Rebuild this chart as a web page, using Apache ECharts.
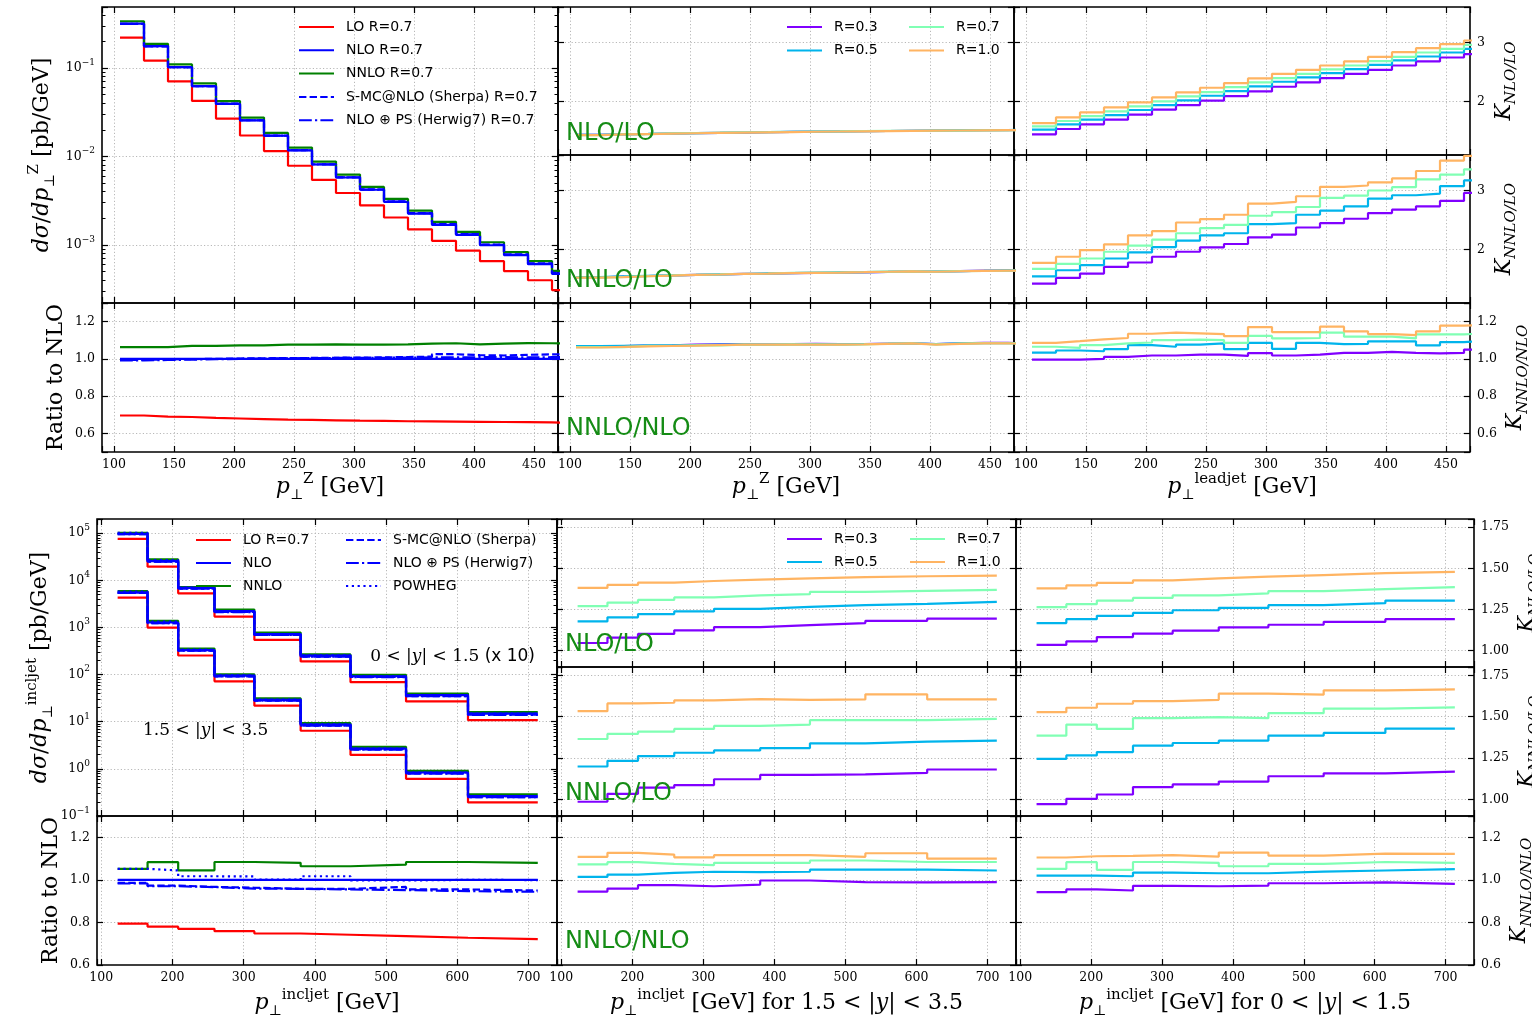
<!DOCTYPE html>
<html>
<head>
<meta charset="utf-8">
<script src="https://cdn.jsdelivr.net/npm/echarts@6/dist/echarts.min.js"></script>
<style>
  html, body { margin: 0; padding: 0; background: #fff; }
  #chart { width: 1532px; height: 1021px; }
</style>
</head>
<body>
<div id="chart"></div>
<script>
// ---------------------------------------------------------------------------
// Z + jet: bins in pT of the Z boson / leading jet [GeV]
const zEdges = [105, 125, 145, 165, 185, 205, 225, 245, 265, 285, 305, 325, 345, 365, 385, 405, 425, 445, 465, 485];

// dsigma/dpT^Z [pb/GeV], R = 0.7
const zLO     = [0.2210, 0.1215, 0.0706, 0.0425, 0.0268, 0.01725, 0.01150, 0.00785, 0.00542, 0.00386, 0.00280, 0.00204, 0.00150, 0.00111, 0.000860, 0.000654, 0.000504, 0.000398, 0.000308];
const zNLO    = [0.318, 0.177, 0.1026, 0.0625, 0.0394, 0.0256, 0.01714, 0.0117, 0.00811, 0.00578, 0.00420, 0.00307, 0.00226, 0.00168, 0.00130, 0.00099, 0.000764, 0.000604, 0.00047];
const zNNLO   = [0.338, 0.188, 0.1098, 0.0669, 0.0423, 0.0275, 0.01846, 0.01259, 0.00874, 0.00623, 0.00452, 0.00331, 0.002445, 0.00182, 0.00140, 0.00107, 0.000829, 0.000655, 0.000509];
const zSherpa = [0.3164, 0.1765, 0.1025, 0.0625, 0.03948, 0.02568, 0.01721, 0.01176, 0.00816, 0.00582, 0.004234, 0.00310, 0.002287, 0.001722, 0.001326, 0.001008, 0.000781, 0.000618, 0.000481];
const zHerwig = [0.3155, 0.1759, 0.1022, 0.06238, 0.0394, 0.02565, 0.01719, 0.01175, 0.00815, 0.00581, 0.004225, 0.003091, 0.002278, 0.001693, 0.001312, 0.00100, 0.000770, 0.000609, 0.000475];

// ratios to NLO (R = 0.7)
const zRatLO     = [0.696, 0.690, 0.688, 0.683, 0.680, 0.677, 0.674, 0.672, 0.670, 0.668, 0.667, 0.665, 0.664, 0.663, 0.662, 0.661, 0.660, 0.659, 0.656];
const zRatNLO    = [1, 1, 1, 1, 1, 1, 1, 1, 1, 1, 1, 1, 1, 1, 1, 1, 1, 1, 1];
const zRatNNLO   = [1.063, 1.063, 1.070, 1.070, 1.073, 1.073, 1.077, 1.076, 1.078, 1.077, 1.077, 1.078, 1.082, 1.084, 1.078, 1.082, 1.085, 1.084, 1.083];
const zRatSherpa = [0.995, 0.997, 0.999, 1.000, 1.002, 1.003, 1.004, 1.005, 1.006, 1.007, 1.008, 1.010, 1.012, 1.025, 1.020, 1.018, 1.022, 1.024, 1.024];
const zRatHerwig = [0.992, 0.994, 0.996, 0.998, 1.000, 1.002, 1.003, 1.004, 1.005, 1.005, 1.006, 1.007, 1.008, 1.008, 1.009, 1.010, 1.008, 1.009, 1.010];

// K-factors vs pT^Z for R = 0.3, 0.5, 0.7, 1.0
const zKnloR03 = [1.440, 1.450, 1.455, 1.462, 1.468, 1.474, 1.479, 1.484, 1.489, 1.494, 1.497, 1.501, 1.505, 1.508, 1.511, 1.514, 1.518, 1.521, 1.524];
const zKnloR05 = [1.441, 1.451, 1.456, 1.463, 1.469, 1.474, 1.480, 1.485, 1.490, 1.494, 1.498, 1.502, 1.505, 1.509, 1.512, 1.515, 1.518, 1.522, 1.525];
const zKnloR07 = [1.437, 1.449, 1.453, 1.464, 1.470, 1.477, 1.484, 1.488, 1.493, 1.497, 1.499, 1.504, 1.506, 1.508, 1.511, 1.513, 1.515, 1.517, 1.524];
const zKnloR10 = [1.436, 1.448, 1.454, 1.461, 1.467, 1.473, 1.478, 1.483, 1.488, 1.493, 1.497, 1.500, 1.504, 1.507, 1.511, 1.514, 1.517, 1.520, 1.523];

const zKnnloR03 = [1.535, 1.548, 1.556, 1.565, 1.576, 1.582, 1.592, 1.597, 1.606, 1.609, 1.613, 1.619, 1.625, 1.633, 1.629, 1.638, 1.647, 1.649, 1.651];
const zKnnloR05 = [1.538, 1.551, 1.559, 1.567, 1.574, 1.584, 1.590, 1.600, 1.604, 1.611, 1.616, 1.621, 1.627, 1.631, 1.632, 1.640, 1.645, 1.651, 1.652];
const zKnnloR07 = [1.530, 1.541, 1.555, 1.566, 1.577, 1.583, 1.594, 1.598, 1.609, 1.612, 1.615, 1.621, 1.630, 1.635, 1.629, 1.637, 1.644, 1.645, 1.651];
const zKnnloR10 = [1.527, 1.538, 1.552, 1.562, 1.574, 1.581, 1.591, 1.597, 1.605, 1.610, 1.614, 1.620, 1.628, 1.633, 1.628, 1.636, 1.643, 1.646, 1.650];

const zKnnNloR03 = [1.066, 1.068, 1.071, 1.072, 1.076, 1.078, 1.080, 1.078, 1.079, 1.081, 1.079, 1.080, 1.082, 1.084, 1.080, 1.084, 1.086, 1.086, 1.084];
const zKnnNloR05 = [1.068, 1.070, 1.072, 1.073, 1.074, 1.076, 1.078, 1.077, 1.078, 1.079, 1.078, 1.080, 1.081, 1.083, 1.079, 1.083, 1.085, 1.085, 1.083];
const zKnnNloR07 = [1.063, 1.063, 1.070, 1.070, 1.073, 1.073, 1.077, 1.076, 1.078, 1.077, 1.077, 1.078, 1.082, 1.084, 1.078, 1.082, 1.085, 1.084, 1.083];
const zKnnNloR10 = [1.061, 1.064, 1.067, 1.069, 1.071, 1.074, 1.076, 1.076, 1.077, 1.076, 1.077, 1.078, 1.081, 1.083, 1.077, 1.081, 1.083, 1.083, 1.082];

// K-factors vs leading-jet pT
const ljKnloR03 = [1.449, 1.539, 1.618, 1.697, 1.781, 1.865, 1.944, 2.017, 2.096, 2.174, 2.253, 2.326, 2.399, 2.472, 2.539, 2.612, 2.680, 2.747, 2.803];
const ljKnloR05 = [1.528, 1.618, 1.697, 1.775, 1.860, 1.944, 2.022, 2.101, 2.180, 2.258, 2.337, 2.410, 2.483, 2.551, 2.624, 2.697, 2.764, 2.831, 2.893];
const ljKnloR07 = [1.584, 1.674, 1.758, 1.837, 1.921, 2.006, 2.090, 2.163, 2.247, 2.326, 2.399, 2.472, 2.545, 2.612, 2.685, 2.758, 2.831, 2.893, 2.961];
const ljKnloR10 = [1.640, 1.736, 1.820, 1.904, 1.989, 2.073, 2.157, 2.236, 2.315, 2.393, 2.472, 2.539, 2.612, 2.680, 2.758, 2.837, 2.904, 2.972, 3.034];

const ljKnnloR03 = [1.426, 1.523, 1.597, 1.710, 1.784, 1.881, 1.966, 2.040, 2.097, 2.210, 2.256, 2.375, 2.449, 2.523, 2.619, 2.676, 2.733, 2.824, 2.960];
const ljKnnloR05 = [1.551, 1.653, 1.739, 1.852, 1.955, 2.045, 2.153, 2.244, 2.278, 2.432, 2.449, 2.591, 2.659, 2.733, 2.864, 2.920, 2.949, 3.074, 3.170];
const ljKnnloR07 = [1.676, 1.761, 1.852, 1.966, 2.068, 2.170, 2.278, 2.364, 2.420, 2.574, 2.636, 2.722, 2.875, 2.915, 3.000, 3.057, 3.188, 3.267, 3.358];
const ljKnnloR10 = [1.778, 1.881, 1.994, 2.091, 2.244, 2.313, 2.460, 2.517, 2.591, 2.778, 2.807, 2.903, 3.063, 3.085, 3.136, 3.205, 3.330, 3.506, 3.585];

const ljKnnNloR03 = [0.996, 0.996, 1.000, 1.011, 1.018, 1.018, 1.023, 1.023, 1.016, 1.031, 1.018, 1.023, 1.032, 1.032, 1.038, 1.032, 1.029, 1.032, 1.050];
const ljKnnNloR05 = [1.034, 1.045, 1.041, 1.052, 1.074, 1.065, 1.077, 1.083, 1.052, 1.086, 1.054, 1.086, 1.079, 1.081, 1.094, 1.094, 1.072, 1.090, 1.097];
const ljKnnNloR07 = [1.065, 1.059, 1.074, 1.083, 1.088, 1.101, 1.103, 1.101, 1.086, 1.123, 1.110, 1.112, 1.141, 1.119, 1.119, 1.110, 1.132, 1.132, 1.137];
const ljKnnNloR10 = [1.086, 1.095, 1.105, 1.112, 1.135, 1.141, 1.137, 1.133, 1.122, 1.171, 1.144, 1.144, 1.173, 1.148, 1.133, 1.128, 1.148, 1.178, 1.184];

// ---------------------------------------------------------------------------
// Inclusive jets: bins in pT^incljet [GeV]
const jetEdges = [123, 165, 208, 259, 315, 380, 450, 528, 615, 713];

// 0 < |y| < 1.5 (scaled by 10)
const cenLO     = [76000, 19500, 5300, 1700, 545, 190, 69.0, 27.0, 10.8];
const cenNLO    = [96800, 25600, 6890, 2213, 722, 252, 92.2, 36.6, 14.8];
const cenNNLO   = [101800, 27700, 7210, 2400, 780, 268, 99.0, 39.7, 16.0];
const cenSherpa = [95400, 24900, 6660, 2130, 692, 241, 89.0, 35.0, 14.1];
const cenHerwig = [95200, 24800, 6650, 2120, 692, 241, 87.8, 34.7, 14.0];
const cenPowheg = [101800, 26700, 7010, 2226, 723, 256, 92.0, 36.6, 14.8];

// 1.5 < |y| < 3.5
const fwdLO     = [4310, 990, 254, 72.0, 21.9, 6.43, 1.98, 0.614, 0.194];
const fwdNLO    = [5480, 1275, 332, 95.2, 29.2, 8.64, 2.69, 0.837, 0.265];
const fwdNNLO   = [5880, 1381, 357, 101.8, 31.5, 9.33, 2.93, 0.907, 0.287];
const fwdSherpa = [5400, 1240, 321, 91.7, 28.0, 8.28, 2.60, 0.800, 0.252];
const fwdHerwig = [5390, 1237, 321, 91.3, 28.0, 8.25, 2.56, 0.790, 0.250];
const fwdPowheg = [5760, 1330, 338, 95.8, 29.3, 8.79, 2.68, 0.837, 0.265];

// ratios to NLO
const jetRatLO     = [0.794, 0.780, 0.770, 0.759, 0.748, 0.742, 0.736, 0.728, 0.722];
const jetRatNLO    = [1, 1, 1, 1, 1, 1, 1, 1, 1];
const jetRatNNLO   = [1.052, 1.083, 1.045, 1.084, 1.080, 1.064, 1.072, 1.084, 1.080];
const jetRatSherpa = [0.986, 0.973, 0.967, 0.963, 0.958, 0.958, 0.967, 0.955, 0.950];
const jetRatHerwig = [0.983, 0.970, 0.966, 0.959, 0.958, 0.955, 0.952, 0.947, 0.944];
const jetRatPowheg = [1.052, 1.044, 1.017, 1.016, 1.001, 1.017, 0.997, 1.000, 0.999];

// K-factors, 1.5 < |y| < 3.5
const fwdKnloR03 = [1.046, 1.079, 1.101, 1.123, 1.143, 1.155, 1.167, 1.181, 1.194];
const fwdKnloR05 = [1.177, 1.202, 1.222, 1.238, 1.254, 1.266, 1.276, 1.284, 1.296];
const fwdKnloR07 = [1.270, 1.292, 1.308, 1.323, 1.335, 1.343, 1.357, 1.363, 1.369];
const fwdKnloR10 = [1.381, 1.399, 1.413, 1.423, 1.431, 1.439, 1.446, 1.452, 1.456];
const fwdKnnloR03 = [0.986, 1.034, 1.071, 1.087, 1.122, 1.148, 1.152, 1.160, 1.181];
const fwdKnnloR05 = [1.199, 1.233, 1.262, 1.282, 1.296, 1.310, 1.339, 1.349, 1.355];
const fwdKnnloR07 = [1.365, 1.396, 1.410, 1.426, 1.444, 1.452, 1.479, 1.479, 1.487];
const fwdKnnloR10 = [1.533, 1.580, 1.584, 1.598, 1.606, 1.602, 1.604, 1.635, 1.604];
const fwdKnnNloR03 = [0.945, 0.959, 0.975, 0.970, 0.978, 0.997, 0.989, 0.988, 0.989];
const fwdKnnNloR05 = [1.014, 1.025, 1.033, 1.038, 1.036, 1.038, 1.048, 1.048, 1.044];
const fwdKnnNloR07 = [1.073, 1.083, 1.075, 1.069, 1.080, 1.080, 1.091, 1.084, 1.084];
const fwdKnnNloR10 = [1.108, 1.127, 1.119, 1.106, 1.116, 1.116, 1.108, 1.125, 1.100];

// K-factors, 0 < |y| < 1.5
const cenKnloR03 = [1.034, 1.056, 1.082, 1.103, 1.121, 1.141, 1.157, 1.175, 1.191];
const cenKnloR05 = [1.167, 1.191, 1.211, 1.229, 1.245, 1.260, 1.276, 1.288, 1.304];
const cenKnloR07 = [1.264, 1.282, 1.304, 1.320, 1.336, 1.348, 1.362, 1.374, 1.386];
const cenKnloR10 = [1.378, 1.396, 1.412, 1.427, 1.439, 1.449, 1.459, 1.471, 1.479];
const cenKnnloR03 = [0.972, 1.004, 1.030, 1.075, 1.091, 1.108, 1.140, 1.158, 1.168];
const cenKnnloR05 = [1.245, 1.266, 1.286, 1.325, 1.341, 1.355, 1.385, 1.402, 1.428];
const cenKnnloR07 = [1.385, 1.452, 1.426, 1.491, 1.497, 1.491, 1.521, 1.548, 1.556];
const cenKnnloR10 = [1.527, 1.554, 1.578, 1.594, 1.602, 1.639, 1.633, 1.659, 1.665];
const cenKnnNloR03 = [0.942, 0.955, 0.950, 0.972, 0.970, 0.973, 0.984, 0.988, 0.981];
const cenKnnNloR05 = [1.020, 1.020, 1.017, 1.034, 1.031, 1.031, 1.039, 1.044, 1.050];
const cenKnnNloR07 = [1.052, 1.083, 1.047, 1.084, 1.080, 1.064, 1.075, 1.084, 1.080];
const cenKnnNloR10 = [1.105, 1.111, 1.113, 1.116, 1.109, 1.128, 1.114, 1.123, 1.122];

// ---------------------------------------------------------------------------
const SERIF = 'DejaVu Serif';
const SANS = 'DejaVu Sans';
const R_NAMES = ['R=0.3', 'R=0.5', 'R=0.7', 'R=1.0'];
const R_COLORS = ['#8000ff', '#00b4ec', '#80ffb4', '#ffb462'];
const C_LO = '#ff0000', C_NLO = '#0000ff', C_NNLO = '#008000';
const LW = 2.2;
const DASH = [7.4, 3.2], DASHDOT = [12.8, 3.2, 2.2, 3.2], DOT = [2.2, 3.6];

const TICK = { show: true, inside: true, length: 6, lineStyle: { color: '#000', width: 1.2 } };
const GRIDLINE = { show: true, showMinLine: false, showMaxLine: false,
  lineStyle: { color: '#b8b8b8', width: 1, type: [1.2, 2.2] } };
const LABEL = { color: '#000', fontFamily: SERIF, fontSize: 12.5, showMinLabel: true, showMaxLabel: true, hideOverlap: false };
const LOG_RICH = {
  b: { fontFamily: SERIF, fontSize: 12.5, lineHeight: 20 },
  e: { fontFamily: SERIF, fontSize: 9, lineHeight: 10, verticalAlign: 'top' }
};
const TITLE = {
  fontFamily: SERIF, fontSize: 22, lineHeight: 30, color: '#000',
  rich: {
    i:   { fontFamily: SERIF, fontStyle: 'italic', fontSize: 22, lineHeight: 30 },
    sup: { fontFamily: SERIF, fontSize: 15, lineHeight: 17, verticalAlign: 'top' },
    sub: { fontFamily: SERIF, fontSize: 14, lineHeight: 17, verticalAlign: 'bottom' },
    ks:  { fontFamily: SERIF, fontStyle: 'italic', fontSize: 15, lineHeight: 15, verticalAlign: 'bottom' }
  }
};

function linFmt(step, dec) {
  return function (v) {
    const k = v / step;
    if (Math.abs(k - Math.round(k)) > 1e-6) return '';
    return v.toFixed(dec);
  };
}
function logFmt(v) {
  const e = Math.log10(v);
  const r = Math.round(e);
  if (Math.abs(e - r) > 1e-6) return '';
  return '{b|10}{e|' + (r < 0 ? '\u2212' + (-r) : String(r)) + '}';
}

const grid = [], xAxis = [], yAxis = [], series = [];

// one framed panel with ticks on all four sides
function panel(r, xc, yc) {
  const gi = grid.length;
  grid.push({
    left: r[0], top: r[2], width: r[1] - r[0], height: r[3] - r[2],
    show: true, borderColor: '#000', borderWidth: 1.6, backgroundColor: 'transparent',
    containLabel: false, outerBoundsMode: 'none'
  });
  const xi = xAxis.length;
  const xb = { gridIndex: gi, type: 'value', min: xc.min, max: xc.max, minInterval: xc.step, maxInterval: xc.step,
    axisLine: { show: false }, axisTick: TICK, silent: true };
  xAxis.push(Object.assign({}, xb, {
    position: 'bottom', splitLine: GRIDLINE,
    axisLabel: Object.assign({}, LABEL, { show: !!xc.labels, margin: 6, formatter: linFmt(xc.step, 0) }),
    name: xc.name || '', nameLocation: 'middle', nameGap: xc.nameGap || 20, nameTextStyle: TITLE
  }));
  xAxis.push(Object.assign({}, xb, { position: 'top', splitLine: { show: false }, axisLabel: { show: false } }));

  const yi = yAxis.length;
  const yb = { gridIndex: gi, type: yc.log ? 'log' : 'value', min: yc.min, max: yc.max,
    axisLine: { show: false }, axisTick: TICK, silent: true };
  if (yc.log) {
    yb.logBase = 10;
    yb.minorTick = { show: true, splitNumber: 9, length: 3.5, lineStyle: { color: '#000', width: 1 } };
  } else { yb.minInterval = yc.step; yb.maxInterval = yc.step; }
  const fmt = yc.log ? logFmt : linFmt(yc.step, yc.dec);
  ['left', 'right'].forEach(function (pos, k) {
    const own = yc.side === pos;
    yAxis.push(Object.assign({}, yb, {
      position: pos,
      splitLine: k === 0 ? GRIDLINE : { show: false },
      axisLabel: Object.assign({}, LABEL, { show: own, margin: 7, formatter: fmt, rich: LOG_RICH }),
      name: own && yc.name ? yc.name : '', nameLocation: 'middle', nameRotate: 90,
      nameGap: yc.nameGap || 30, nameTextStyle: TITLE
    }));
  });
  return { x: xi, y: yi };
}

// histogram drawn as a step line: value of bin i starts at edge i
function hist(ax, name, edges, vals, color, dash, z) {
  series.push({
    type: 'line', name: name, xAxisIndex: ax.x, yAxisIndex: ax.y,
    data: edges.map(function (e, i) { return [e, vals[Math.min(i, vals.length - 1)]]; }),
    step: 'end', symbol: 'none', showSymbol: false, clip: true, silent: true,
    lineStyle: { color: color, width: LW, type: dash || 'solid', cap: 'butt' },
    itemStyle: { color: color }, z: z || 2
  });
}
function rset(ax, edges, arrs) {
  arrs.forEach(function (a, k) { hist(ax, R_NAMES[k], edges, a, R_COLORS[k], null, 3 + k); });
}

// ---------------------------------------------------------------------------
// axis titles
const X_Z    = '{i|p}{sub|\u22a5}{sup|Z} [GeV]';
const X_LEAD = '{i|p}{sub|\u22a5}{sup|leadjet} [GeV]';
const X_JET  = '{i|p}{sub|\u22a5}{sup|incljet} [GeV]';
const X_FWD  = '{i|p}{sub|\u22a5}{sup|incljet} [GeV] for 1.5 < |{i|y}| < 3.5';
const X_CEN  = '{i|p}{sub|\u22a5}{sup|incljet} [GeV] for 0 < |{i|y}| < 1.5';
const Y_ZMAIN = '{i|d\u03c3}/{i|dp}{sub|\u22a5}{sup|Z} [pb/GeV]';
const Y_JMAIN = '{i|d\u03c3}/{i|dp}{sub|\u22a5}{sup|incljet} [pb/GeV]';
const Y_RATIO = 'Ratio to NLO';
const K_NLO_LO   = '{i|K}{ks|NLO/LO}';
const K_NNLO_LO  = '{i|K}{ks|NNLO/LO}';
const K_NNLO_NLO = '{i|K}{ks|NNLO/NLO}';

const XZ = { min: 90, max: 470, step: 50 };
const XJ = { min: 94, max: 740, step: 100 };
const o = function (a, b) { return Object.assign({}, a, b); };

// ---- upper block: Z + jet
const pZMain  = panel([102, 558, 7, 303], o(XZ, {}), { log: true, min: 2.2e-4, max: 0.49, side: 'left', name: Y_ZMAIN, nameGap: 45 });
const pZRatio = panel([102, 558, 303, 452], o(XZ, { labels: true, name: X_Z, nameGap: 20 }), { min: 0.5, max: 1.3, step: 0.2, dec: 1, side: 'left', name: Y_RATIO, nameGap: 30 });
const pZK1 = panel([558, 1014, 7, 155], o(XZ, {}), { min: 1.1, max: 3.6, step: 1, dec: 0, side: 'none' });
const pZK2 = panel([558, 1014, 155, 303], o(XZ, {}), { min: 1.1, max: 3.6, step: 1, dec: 0, side: 'none' });
const pZK3 = panel([558, 1014, 303, 452], o(XZ, { labels: true, name: X_Z, nameGap: 20 }), { min: 0.5, max: 1.3, step: 0.2, dec: 1, side: 'none' });
const pLK1 = panel([1014, 1470, 7, 155], o(XZ, {}), { min: 1.1, max: 3.6, step: 1, dec: 0, side: 'right', name: K_NLO_LO, nameGap: 15 });
const pLK2 = panel([1014, 1470, 155, 303], o(XZ, {}), { min: 1.1, max: 3.6, step: 1, dec: 0, side: 'right', name: K_NNLO_LO, nameGap: 15 });
const pLK3 = panel([1014, 1470, 303, 452], o(XZ, { labels: true, name: X_LEAD, nameGap: 20 }), { min: 0.5, max: 1.3, step: 0.2, dec: 1, side: 'right', name: K_NNLO_NLO, nameGap: 27 });

// ---- lower block: inclusive jets
const pJMain  = panel([97, 557, 519, 816], o(XJ, {}), { log: true, min: 0.1, max: 2e5, side: 'left', name: Y_JMAIN, nameGap: 42 });
const pJRatio = panel([97, 557, 816, 965], o(XJ, { labels: true, name: X_JET, nameGap: 23 }), { min: 0.6, max: 1.3, step: 0.2, dec: 1, side: 'left', name: Y_RATIO, nameGap: 30 });
const pFK1 = panel([557, 1016, 519, 667], o(XJ, {}), { min: 0.9, max: 1.8, step: 0.25, dec: 2, side: 'none' });
const pFK2 = panel([557, 1016, 667, 816], o(XJ, {}), { min: 0.9, max: 1.8, step: 0.25, dec: 2, side: 'none' });
const pFK3 = panel([557, 1016, 816, 965], o(XJ, { labels: true, name: X_FWD, nameGap: 23 }), { min: 0.6, max: 1.3, step: 0.2, dec: 1, side: 'none' });
const pCK1 = panel([1016, 1474, 519, 667], o(XJ, {}), { min: 0.9, max: 1.8, step: 0.25, dec: 2, side: 'right', name: K_NLO_LO, nameGap: 36 });
const pCK2 = panel([1016, 1474, 667, 816], o(XJ, {}), { min: 0.9, max: 1.8, step: 0.25, dec: 2, side: 'right', name: K_NNLO_LO, nameGap: 36 });
const pCK3 = panel([1016, 1474, 816, 965], o(XJ, { labels: true, name: X_CEN, nameGap: 23 }), { min: 0.6, max: 1.3, step: 0.2, dec: 1, side: 'right', name: K_NNLO_NLO, nameGap: 28 });

// ---- series
hist(pZMain, 'LO R=0.7', zEdges, zLO, C_LO);
hist(pZMain, 'NLO R=0.7', zEdges, zNLO, C_NLO);
hist(pZMain, 'NNLO R=0.7', zEdges, zNNLO, C_NNLO);
hist(pZMain, 'S-MC@NLO (Sherpa) R=0.7', zEdges, zSherpa, C_NLO, DASH);
hist(pZMain, 'NLO \u2295 PS (Herwig7) R=0.7', zEdges, zHerwig, C_NLO, DASHDOT);

hist(pZRatio, 'LO R=0.7', zEdges, zRatLO, C_LO);
hist(pZRatio, 'NNLO R=0.7', zEdges, zRatNNLO, C_NNLO);
hist(pZRatio, 'S-MC@NLO (Sherpa) R=0.7', zEdges, zRatSherpa, C_NLO, DASH);
hist(pZRatio, 'NLO \u2295 PS (Herwig7) R=0.7', zEdges, zRatHerwig, C_NLO, DASHDOT);
hist(pZRatio, 'NLO R=0.7', zEdges, zRatNLO, C_NLO);

rset(pZK1, zEdges, [zKnloR03, zKnloR05, zKnloR07, zKnloR10]);
rset(pZK2, zEdges, [zKnnloR03, zKnnloR05, zKnnloR07, zKnnloR10]);
rset(pZK3, zEdges, [zKnnNloR03, zKnnNloR05, zKnnNloR07, zKnnNloR10]);
rset(pLK1, zEdges, [ljKnloR03, ljKnloR05, ljKnloR07, ljKnloR10]);
rset(pLK2, zEdges, [ljKnnloR03, ljKnnloR05, ljKnnloR07, ljKnnloR10]);
rset(pLK3, zEdges, [ljKnnNloR03, ljKnnNloR05, ljKnnNloR07, ljKnnNloR10]);

[[cenLO, cenNLO, cenNNLO, cenSherpa, cenHerwig, cenPowheg],
 [fwdLO, fwdNLO, fwdNNLO, fwdSherpa, fwdHerwig, fwdPowheg]].forEach(function (s) {
  hist(pJMain, 'LO R=0.7', jetEdges, s[0], C_LO);
  hist(pJMain, 'NNLO', jetEdges, s[2], C_NNLO);
  hist(pJMain, 'NLO', jetEdges, s[1], C_NLO);
  hist(pJMain, 'S-MC@NLO (Sherpa)', jetEdges, s[3], C_NLO, DASH);
  hist(pJMain, 'NLO \u2295 PS (Herwig7)', jetEdges, s[4], C_NLO, DASHDOT);
  hist(pJMain, 'POWHEG', jetEdges, s[5], C_NLO, DOT);
});
hist(pJRatio, 'LO R=0.7', jetEdges, jetRatLO, C_LO);
hist(pJRatio, 'NNLO', jetEdges, jetRatNNLO, C_NNLO);
hist(pJRatio, 'POWHEG', jetEdges, jetRatPowheg, C_NLO, DOT);
hist(pJRatio, 'S-MC@NLO (Sherpa)', jetEdges, jetRatSherpa, C_NLO, DASH);
hist(pJRatio, 'NLO \u2295 PS (Herwig7)', jetEdges, jetRatHerwig, C_NLO, DASHDOT);
hist(pJRatio, 'NLO', jetEdges, jetRatNLO, C_NLO);

rset(pFK1, jetEdges, [fwdKnloR03, fwdKnloR05, fwdKnloR07, fwdKnloR10]);
rset(pFK2, jetEdges, [fwdKnnloR03, fwdKnnloR05, fwdKnnloR07, fwdKnnloR10]);
rset(pFK3, jetEdges, [fwdKnnNloR03, fwdKnnNloR05, fwdKnnNloR07, fwdKnnNloR10]);
rset(pCK1, jetEdges, [cenKnloR03, cenKnloR05, cenKnloR07, cenKnloR10]);
rset(pCK2, jetEdges, [cenKnnloR03, cenKnnloR05, cenKnnloR07, cenKnnloR10]);
rset(pCK3, jetEdges, [cenKnnNloR03, cenKnnNloR05, cenKnnNloR07, cenKnnNloR10]);

// ---- legends
const LEG = {
  orient: 'vertical', padding: 0, itemWidth: 35, itemHeight: 14, itemGap: 7.3, selectedMode: false,
  itemStyle: { opacity: 0 },
  textStyle: { fontFamily: SANS, fontSize: 14, color: '#000', lineHeight: 16, padding: [0, 0, 0, 7] }
};
const legend = [
  o(LEG, { left: 298, top: 19, data: ['LO R=0.7', 'NLO R=0.7', 'NNLO R=0.7', 'S-MC@NLO (Sherpa) R=0.7', 'NLO \u2295 PS (Herwig7) R=0.7'] }),
  o(LEG, { left: 786, top: 19, itemGap: 7.4, data: ['R=0.3', 'R=0.5'] }),
  o(LEG, { left: 908, top: 19, itemGap: 7.4, data: ['R=0.7', 'R=1.0'] }),
  o(LEG, { left: 195, top: 532, itemGap: 7, data: ['LO R=0.7', 'NLO', 'NNLO'] }),
  o(LEG, { left: 345, top: 532, itemGap: 7, data: ['S-MC@NLO (Sherpa)', 'NLO \u2295 PS (Herwig7)', 'POWHEG'] }),
  o(LEG, { left: 786, top: 531, itemGap: 7, data: ['R=0.3', 'R=0.5'] }),
  o(LEG, { left: 909, top: 531, itemGap: 7, data: ['R=0.7', 'R=1.0'] })
];

// ---- in-panel annotations
function tag(text, x, y) {
  return { type: 'text', x: x, y: y, z: 50, silent: true,
    style: { text: text, fill: '#158c15', fontFamily: SANS, fontSize: 24, align: 'left', verticalAlign: 'middle',
             textAlign: 'left', textVerticalAlign: 'middle' } };
}
function rangeText(text, x, y, align) {
  return { type: 'text', x: x, y: y, z: 50, silent: true,
    style: { text: text, fill: '#000', fontFamily: SANS, fontSize: 17, align: align, verticalAlign: 'middle',
             textAlign: align, textVerticalAlign: 'middle',
             rich: { m: { fontFamily: SERIF, fontSize: 17 }, i: { fontFamily: SERIF, fontStyle: 'italic', fontSize: 17 } } } };
}
const graphic = [
  tag('NLO/LO', 566, 134), tag('NNLO/LO', 566, 281), tag('NNLO/NLO', 566, 429),
  tag('NLO/LO', 565, 645), tag('NNLO/LO', 565, 794), tag('NNLO/NLO', 565, 942),
  rangeText('{m|0 < |}{i|y}{m|| < 1.5} (x 10)', 535, 657, 'right'),
  rangeText('{m|1.5 < |}{i|y}{m|| < 3.5}', 143, 731, 'left')
];

const chart = echarts.init(document.getElementById('chart'), null, { renderer: 'canvas' });
chart.setOption({
  animation: false,
  backgroundColor: '#ffffff',
  grid: grid, xAxis: xAxis, yAxis: yAxis, series: series,
  legend: legend, graphic: graphic
});
</script>
</body>
</html>
